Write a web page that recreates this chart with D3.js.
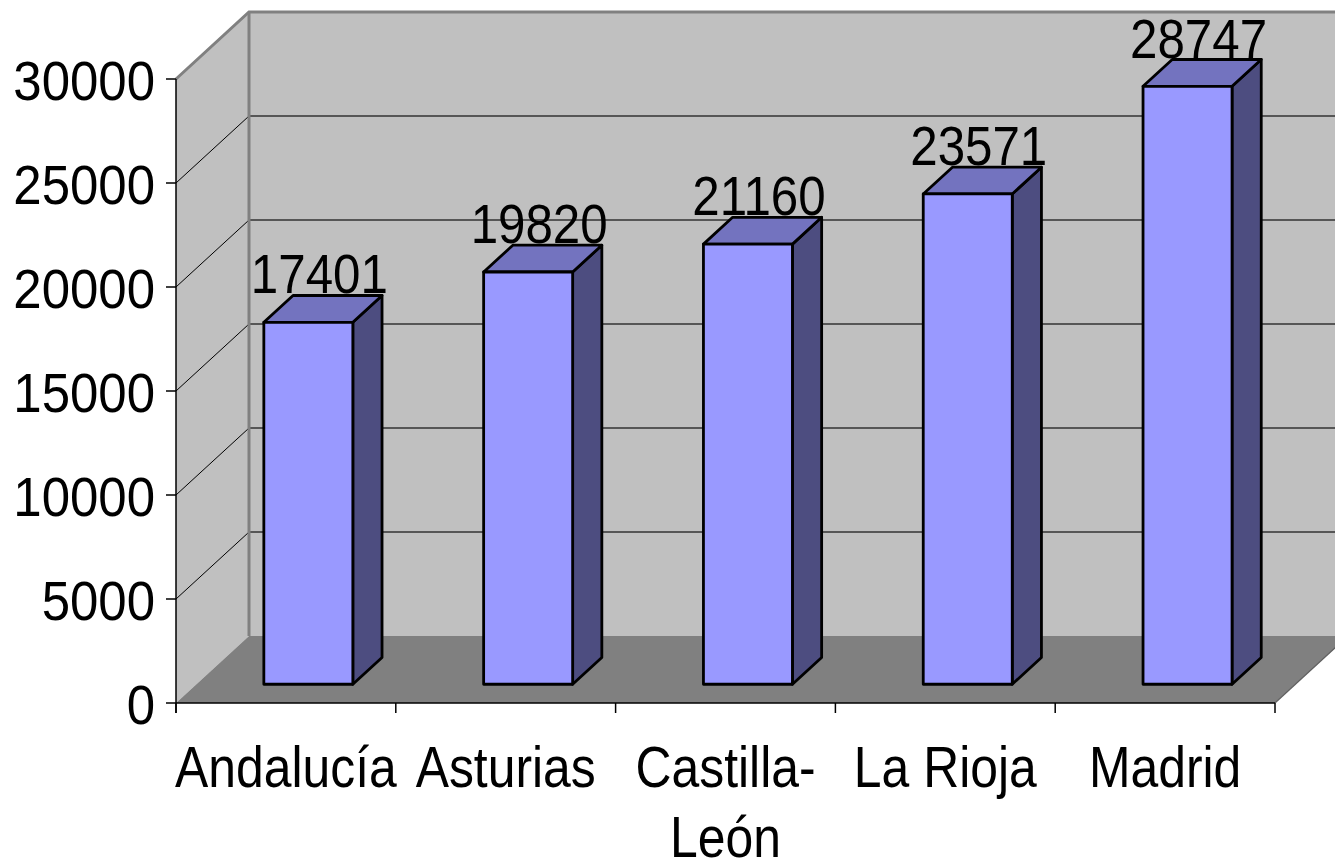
<!DOCTYPE html>
<html>
<head>
<meta charset="utf-8">
<script src="https://cdn.jsdelivr.net/npm/d3@7"></script>
<style>
  body { margin: 0; background: #fff; }
  text { font-family: "Liberation Sans", Arial, sans-serif; fill: #000; }
</style>
</head>
<body>
<div id="chart"></div>
<script>
// data
const categories = ["Andalucía", "Asturias", "Castilla-León", "La Rioja", "Madrid"];
const labelLines = [["Andalucía"], ["Asturias"], ["Castilla-", "León"], ["La Rioja"], ["Madrid"]];
const values = [17401, 19820, 21160, 23571, 28747];
const yTicks = [0, 5000, 10000, 15000, 20000, 25000, 30000];

// basic structure
const W = 1335, H = 867;
const DX = 73, DY = -67;          // depth of the 3D box
const barW = 89;
const z0 = 0.28, z1 = 0.68;       // bar front / back depth fraction

const svg = d3.select("#chart")
    .append("svg")
    .attr("width", W)
    .attr("height", H);

// scales
const x = d3.scaleBand()
    .domain(categories)
    .range([176, 1275]);

const y = d3.scaleLinear()
    .domain([0, 30000])
    .range([703, 79]);

const P = (px, py, z) => [px + z * DX, py + z * DY];
const poly = pts => "M" + pts.map(p => p.join(",")).join("L") + "Z";

const x0 = x.range()[0], x1 = x.range()[1];
const yTop = y(30000), yBot = y(0);

// back wall
svg.append("path")
    .attr("d", poly([P(x0, yTop, 1), P(x1, yTop, 1), P(x1, yBot, 1), P(x0, yBot, 1)]))
    .attr("fill", "#c0c0c0");

// left wall
svg.append("path")
    .attr("d", poly([P(x0, yTop, 0), P(x0, yTop, 1), P(x0, yBot, 1), P(x0, yBot, 0)]))
    .attr("fill", "#c0c0c0");

// floor
svg.append("path")
    .attr("d", poly([P(x0, yBot, 0), P(x1, yBot, 0), P(x1, yBot, 1), P(x0, yBot, 1)]))
    .attr("fill", "#808080");

// gridlines
const grid = yTicks.filter(d => d > 0);
svg.selectAll(".grid-back")
    .data(grid)
    .join("line")
    .attr("class", "grid-back")
    .attr("x1", d => P(x0, y(d), 1)[0])
    .attr("y1", d => P(x0, y(d), 1)[1])
    .attr("x2", d => P(x1, y(d), 1)[0])
    .attr("y2", d => P(x1, y(d), 1)[1])
    .attr("stroke", "#333")
    .attr("stroke-width", 1.4);

svg.selectAll(".grid-side")
    .data(grid)
    .join("line")
    .attr("class", "grid-side")
    .attr("x1", x0)
    .attr("y1", d => y(d))
    .attr("x2", d => P(x0, y(d), 1)[0])
    .attr("y2", d => P(x0, y(d), 1)[1])
    .attr("stroke", "#000")
    .attr("stroke-width", 1);

// wall edges
svg.append("path")
    .attr("d", "M" + [P(x0, yTop, 0), P(x0, yTop, 1), P(x1, yTop, 1)].map(p => p.join(",")).join("L"))
    .attr("fill", "none")
    .attr("stroke", "#808080")
    .attr("stroke-width", 3);

svg.append("line")
    .attr("x1", P(x0, yTop, 1)[0]).attr("y1", P(x0, yTop, 1)[1])
    .attr("x2", P(x0, yBot, 1)[0]).attr("y2", P(x0, yBot, 1)[1])
    .attr("stroke", "#808080")
    .attr("stroke-width", 3);

svg.append("line")
    .attr("x1", x1).attr("y1", yBot)
    .attr("x2", P(x1, yBot, 1)[0]).attr("y2", P(x1, yBot, 1)[1])
    .attr("stroke", "#606060")
    .attr("stroke-width", 1.2);

// bars
const bars = svg.selectAll(".bar")
    .data(categories.map((c, i) => ({ c, v: values[i] })))
    .join("g")
    .attr("class", "bar");

const bx = d => x(d.c) + (x.bandwidth() - barW) / 2 + 2;

bars.append("path")   // side
    .attr("d", d => poly([P(bx(d) + barW, y(d.v), z0), P(bx(d) + barW, y(d.v), z1),
                          P(bx(d) + barW, yBot, z1), P(bx(d) + barW, yBot, z0)]))
    .attr("fill", "#4d4d80")
    .attr("stroke", "#000")
    .attr("stroke-width", 2.8)
    .attr("stroke-linejoin", "round");

bars.append("path")   // top
    .attr("d", d => poly([P(bx(d), y(d.v), z0), P(bx(d), y(d.v), z1),
                          P(bx(d) + barW, y(d.v), z1), P(bx(d) + barW, y(d.v), z0)]))
    .attr("fill", "#7373bf")
    .attr("stroke", "#000")
    .attr("stroke-width", 2.8)
    .attr("stroke-linejoin", "round");

bars.append("path")   // front
    .attr("d", d => poly([P(bx(d), y(d.v), z0), P(bx(d) + barW, y(d.v), z0),
                          P(bx(d) + barW, yBot, z0), P(bx(d), yBot, z0)]))
    .attr("fill", "#9999ff")
    .attr("stroke", "#000")
    .attr("stroke-width", 2.8)
    .attr("stroke-linejoin", "round");

// value labels, sitting on the back edge of each bar top
bars.append("text")
    .attr("transform", d => {
        const cx = P(bx(d) + barW / 2, y(d.v), z0)[0] + 11;
        const cy = P(bx(d), y(d.v), z1)[1] - 2;
        return `translate(${cx},${cy}) scale(0.88,1)`;
    })
    .attr("text-anchor", "middle")
    .attr("font-size", 56)
    .text(d => d.v);

// y axis
svg.append("line")
    .attr("x1", x0).attr("y1", yTop)
    .attr("x2", x0).attr("y2", yBot + 10)
    .attr("stroke", "#000")
    .attr("stroke-width", 1.5);

const yAxis = svg.selectAll(".ytick")
    .data(yTicks)
    .join("g")
    .attr("class", "ytick")
    .attr("transform", d => `translate(0,${y(d)})`);

yAxis.append("line")
    .attr("x1", x0 - 10).attr("x2", x0)
    .attr("stroke", "#000")
    .attr("stroke-width", 1.5);

yAxis.append("text")
    .attr("transform", "translate(155,21) scale(0.91,1)")
    .attr("text-anchor", "end")
    .attr("font-size", 56)
    .text(d => d);

// x axis
svg.append("line")
    .attr("x1", x0).attr("y1", yBot)
    .attr("x2", x1).attr("y2", yBot)
    .attr("stroke", "#000")
    .attr("stroke-width", 1.5);

svg.selectAll(".xtick")
    .data(categories.concat([null]))
    .join("line")
    .attr("class", "xtick")
    .attr("x1", d => d === null ? x1 : x(d))
    .attr("x2", d => d === null ? x1 : x(d))
    .attr("y1", yBot)
    .attr("y2", yBot + 10)
    .attr("stroke", "#000")
    .attr("stroke-width", 1.5);

const xLabels = svg.selectAll(".xlabel")
    .data(categories)
    .join("text")
    .attr("class", "xlabel")
    .attr("transform", d => `translate(${x(d) + x.bandwidth() / 2},787) scale(0.86,1)`)
    .attr("text-anchor", "middle")
    .attr("font-size", 58);

xLabels.selectAll("tspan")
    .data((d, i) => labelLines[i])
    .join("tspan")
    .attr("x", 0)
    .attr("dy", (d, i) => i === 0 ? 0 : 70)
    .text(d => d);
</script>
</body>
</html>
